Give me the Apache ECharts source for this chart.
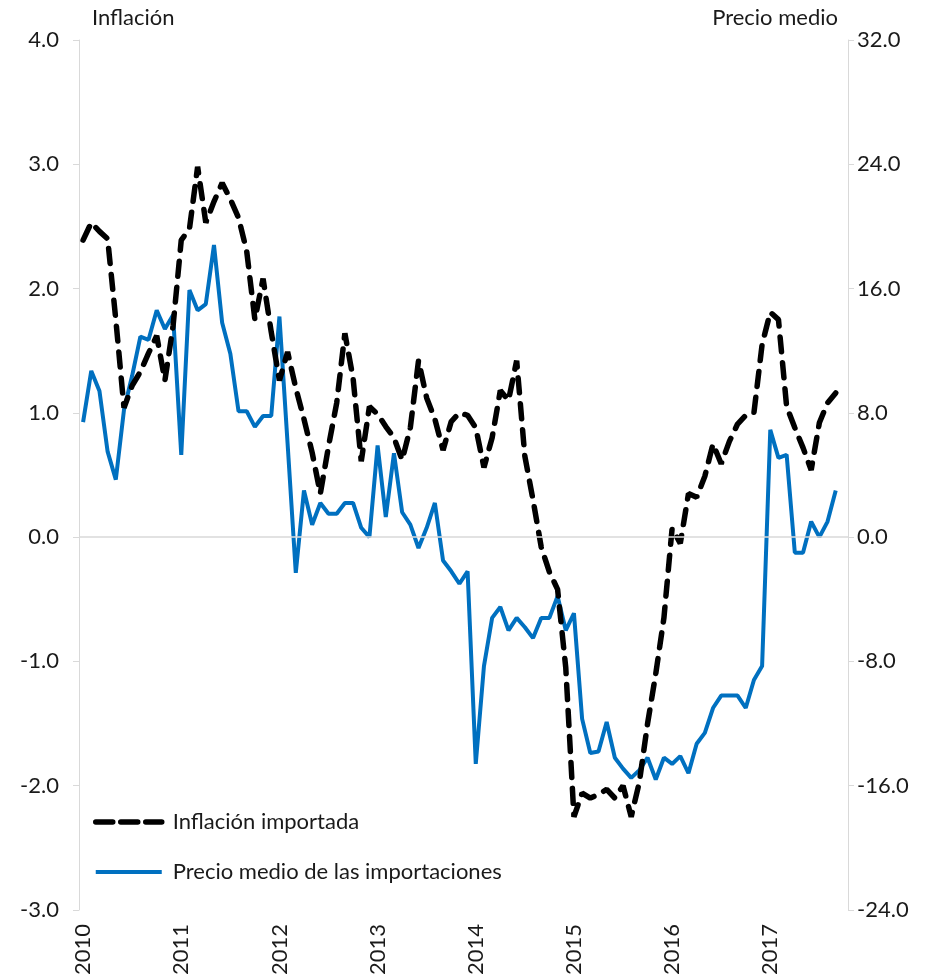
<!DOCTYPE html>
<html>
<head>
<meta charset="utf-8">
<script src="https://cdn.jsdelivr.net/npm/echarts@6/dist/echarts.min.js"></script>
<style>
html,body{margin:0;padding:0;background:#fff;}
#chart{width:930px;height:978px;}
</style>
</head>
<body>
<div id="chart"></div>
<script>
// ---- data ----
const yearLabels = ['2010','2011','2012','2013','2014','2015','2016','2017'];
const monthsShown = 94; // Jan 2010 .. Oct 2017 (axis slots)

// Inflación importada (left axis)
const inflacionImportada = [
  2.39, 2.53, 2.46, 2.40, 1.75, 1.04, 1.22, 1.33, 1.48, 1.62, 1.26, 1.70,
  2.39, 2.48, 2.98, 2.53, 2.70, 2.85, 2.72, 2.57, 2.30, 1.75, 2.08, 1.65,
  1.26, 1.49, 1.20, 0.95, 0.68, 0.35, 0.73, 1.08, 1.64, 1.28, 0.61, 1.05,
  0.99, 0.89, 0.80, 0.62, 0.88, 1.42, 1.12, 0.95, 0.70, 0.93, 1.00, 0.98,
  0.88, 0.56, 0.80, 1.18, 1.10, 1.42, 0.65, 0.30, -0.08, -0.28, -0.42, -1.05,
  -2.25, -2.06, -2.10, -2.07, -2.03, -2.10, -2.00, -2.25, -1.97, -1.50, -1.10, -0.65,
  0.07, -0.05, 0.35, 0.32, 0.49, 0.75, 0.59, 0.77, 0.91, 0.98, 1.00, 1.55,
  1.81, 1.75, 1.05, 0.88, 0.72, 0.54, 0.92, 1.08, 1.16
];

// Precio medio de las importaciones (right axis)
const precioMedio = [
  7.4, 10.7, 9.4, 5.5, 3.7, 8.2, 10.4, 12.9, 12.7, 14.6, 13.4, 14.3,
  5.3, 15.9, 14.6, 15.0, 18.8, 13.8, 11.8, 8.1, 8.1, 7.1, 7.8, 7.8,
  14.2, 6.0, -2.3, 3.0, 0.8, 2.2, 1.5, 1.5, 2.2, 2.2, 0.6, 0.0,
  5.9, 1.3, 5.4, 1.6, 0.8, -0.7, 0.6, 2.2, -1.5, -2.2, -3.0, -2.2,
  -14.6, -8.3, -5.2, -4.5, -6.0, -5.2, -5.8, -6.5, -5.2, -5.2, -3.8, -6.0,
  -4.9, -11.7, -13.9, -13.8, -11.9, -14.2, -14.9, -15.5, -15.0, -14.2, -15.6, -14.2,
  -14.6, -14.1, -15.2, -13.3, -12.6, -11.0, -10.2, -10.2, -10.2, -11.0, -9.2, -8.3,
  6.9, 5.1, 5.3, -1.0, -1.0, 1.0, 0.0, 1.0, 3.0
];

const leftAxis = {min: -3, max: 4, interval: 1, title: 'Inflación'};
const rightAxis = {min: -24, max: 32, interval: 8, title: 'Precio medio'};
const seriesNames = ['Inflación importada', 'Precio medio de las importaciones'];

// ---- build categories ----
const categories = [];
yearLabels.forEach(y => { for (let m = 1; m <= 12; m++) categories.push(y + '-' + String(m).padStart(2, '0')); });
categories.length = monthsShown;

const FONT = "Lato, 'Open Sans', sans-serif";
const FS = 22;
const TXT = '#1a1a1a';
const GRID_COLOR = '#d9d9d9';
const BLACK_DASH = [15, 11];
const BLUE = '#0070C0';

const chart = echarts.init(document.getElementById('chart'));
chart.setOption({
  animation: false,
  backgroundColor: '#fff',
  textStyle: {fontFamily: FONT},
  grid: {left: 79, right: 82, top: 40, bottom: 68, containLabel: false},
  xAxis: {
    type: 'category',
    data: categories,
    boundaryGap: true,
    axisLine: {show: false},
    axisTick: {show: false},
    splitLine: {show: false},
    axisLabel: {
      interval: (i) => i % 12 === 0,
      rotate: 90,
      margin: 14,
      fontSize: FS,
      fontFamily: FONT,
      color: TXT,
      formatter: (v) => v.slice(0, 4)
    }
  },
  yAxis: [
    {
      type: 'value', min: leftAxis.min, max: leftAxis.max, interval: leftAxis.interval,
      position: 'left',
      axisLine: {show: true, lineStyle: {color: GRID_COLOR, width: 1}},
      axisTick: {show: true, length: 6, lineStyle: {color: GRID_COLOR}},
      splitLine: {show: false},
      axisLabel: {margin: 20, fontSize: FS, fontFamily: FONT, color: TXT, formatter: v => v.toFixed(1)}
    },
    {
      type: 'value', min: rightAxis.min, max: rightAxis.max, interval: rightAxis.interval,
      position: 'right',
      axisLine: {show: true, lineStyle: {color: GRID_COLOR, width: 1}},
      axisTick: {show: true, length: 6, lineStyle: {color: GRID_COLOR}},
      splitLine: {show: false},
      axisLabel: {margin: 9, fontSize: FS, fontFamily: FONT, color: TXT, formatter: v => v.toFixed(1)}
    }
  ],
  legend: {
    orient: 'vertical',
    left: 88,
    top: 806,
    itemGap: 28,
    itemWidth: 66,
    itemHeight: 22,
    textStyle: {fontSize: FS, fontFamily: FONT, color: TXT, padding: [0, 0, 0, 6]},
    itemStyle: {opacity: 0},
    data: [
      {name: seriesNames[0], itemStyle: {opacity: 0}, lineStyle: {color: '#000', width: 5.5, type: [17, 8], cap: 'round'}},
      {name: seriesNames[1], itemStyle: {opacity: 0}, lineStyle: {color: BLUE, width: 4, type: 'solid'}}
    ]
  },
  graphic: [
    {type: 'text', left: 92, top: 7, style: {text: leftAxis.title, fontSize: FS, fontFamily: FONT, fill: TXT}},
    {type: 'text', right: 92, top: 7, style: {text: rightAxis.title, fontSize: FS, fontFamily: FONT, fill: TXT}}
  ],
  series: [
    {
      name: seriesNames[0],
      type: 'line',
      yAxisIndex: 0,
      data: inflacionImportada,
      symbol: 'none',
      z: 3,
      lineStyle: {color: '#000', width: 5.5, type: BLACK_DASH, cap: 'round'},
      itemStyle: {color: '#000'},
      markLine: {
        silent: true, symbol: 'none', label: {show: false},
        lineStyle: {color: GRID_COLOR, width: 1.5, type: 'solid'},
        data: [{yAxis: 0}]
      }
    },
    {
      name: seriesNames[1],
      type: 'line',
      yAxisIndex: 1,
      data: precioMedio,
      symbol: 'none',
      z: 2,
      lineStyle: {color: BLUE, width: 4},
      itemStyle: {color: BLUE}
    }
  ]
});
</script>
</body>
</html>
